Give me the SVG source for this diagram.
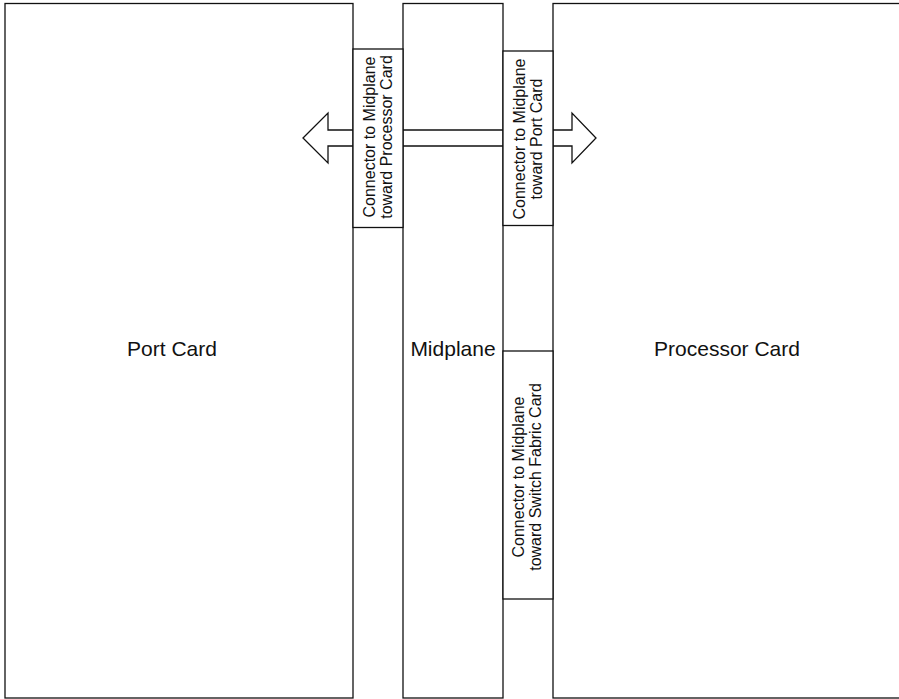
<svg xmlns="http://www.w3.org/2000/svg" width="899" height="699" viewBox="0 0 899 699">
<style>
.box{fill:none;stroke:#111;stroke-width:1.3}
.conn{fill:#fff;stroke:#111;stroke-width:1.3}
.lbl{font-family:"Liberation Sans",Arial,sans-serif;font-size:21px;fill:#111;text-anchor:middle}
.vl{font-family:"Liberation Sans",Arial,sans-serif;font-size:16px;fill:#111;text-anchor:middle}
.arrow{fill:#fff;stroke:#111;stroke-width:1.3;stroke-linejoin:miter}
</style>
<rect width="899" height="699" fill="#fff"/>
<g id="connectors">
<path class="arrow" d="M303,138 L328,113 L328,130 L572,130 L572,113 L596,138 L572,163 L572,146 L328,146 L328,163 Z"/>
</g>
<g id="port-card">
<rect class="box" x="5" y="3.5" width="348" height="694.5"/>
<text class="lbl" x="172" y="355.5">Port Card</text>
</g>
<g id="midplane">
<rect class="box" x="403" y="3.5" width="100" height="694.5"/>
<text class="lbl" x="453" y="356">Midplane</text>
</g>
<g id="processor-card">
<rect class="box" x="553" y="3.5" width="360" height="694.5"/>
<text class="lbl" x="727" y="356">Processor Card</text>
</g>
<g id="conn-processor">
<rect class="conn" x="353" y="49" width="50" height="178.5"/>
<text class="vl" transform="translate(375,137) rotate(-90)"><tspan x="0" y="0">Connector to Midplane</tspan><tspan x="0" dy="16.7">toward Processor Card</tspan></text>
</g>
<g id="conn-port">
<rect class="conn" x="503" y="51" width="50" height="174.5"/>
<text class="vl" transform="translate(525,139) rotate(-90)"><tspan x="0" y="0">Connector to Midplane</tspan><tspan x="0" dy="16.7">toward Port Card</tspan></text>
</g>
<g id="conn-switch">
<rect class="conn" x="503" y="351" width="50" height="248"/>
<text class="vl" transform="translate(524,477) rotate(-90)"><tspan x="0" y="0">Connector to Midplane</tspan><tspan x="0" dy="16.7">toward Switch Fabric Card</tspan></text>
</g>
</svg>
